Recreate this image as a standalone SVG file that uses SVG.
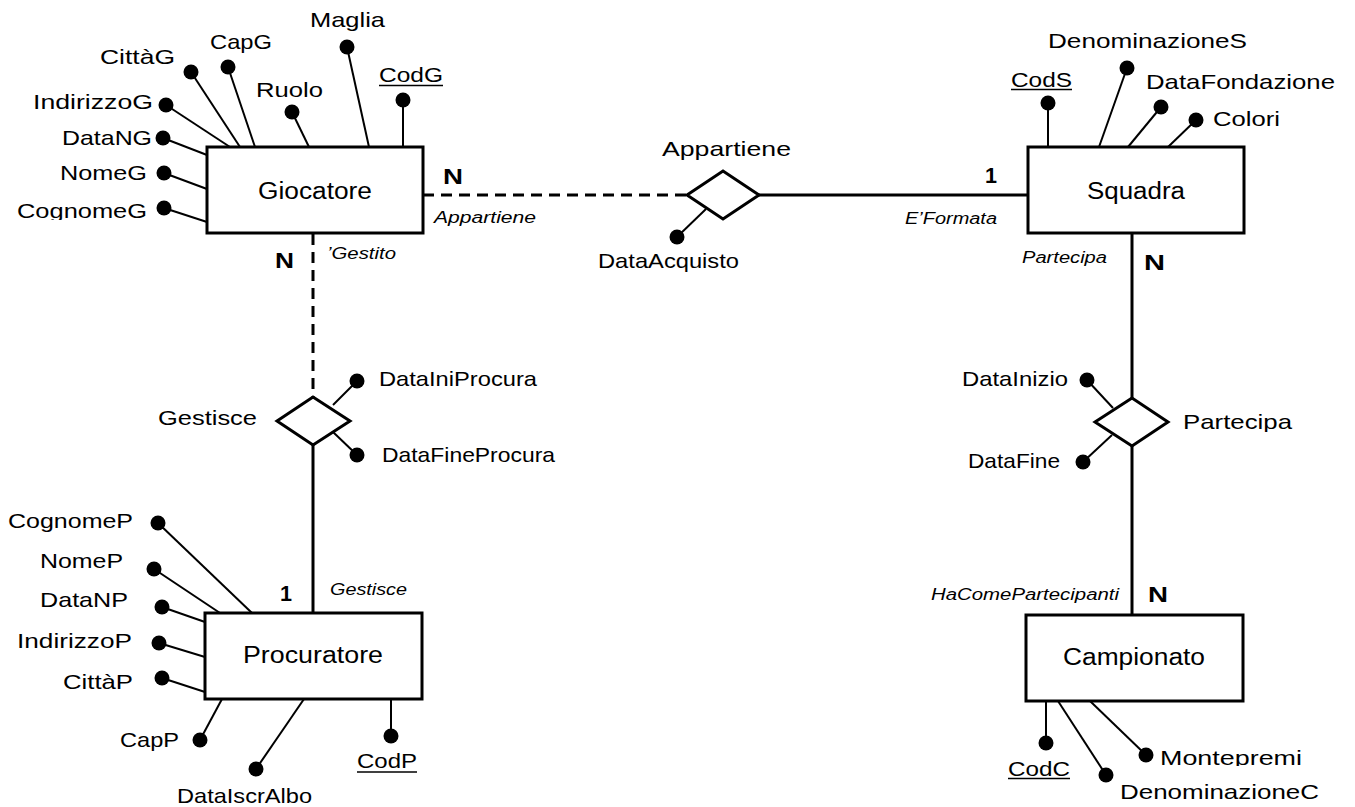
<svg xmlns="http://www.w3.org/2000/svg" width="1355" height="807" viewBox="0 0 1355 807">
<style>
  .ent { fill:#fff; stroke:#000; stroke-width:3 }
  .rel { fill:#fff; stroke:#000; stroke-width:3; stroke-linejoin:miter }
  .al { stroke:#000; stroke-width:2; fill:none }
  .ul { stroke:#000; stroke-width:1.6 }
  .dot { fill:#000 }
  .conn { stroke:#000; stroke-width:3; fill:none }
  .dash { stroke-dasharray:11 7 }
  text { font-family:"Liberation Sans", Arial, Helvetica, sans-serif; fill:#000 }
  .t { font-size:21px }
  .e { font-size:23px }
  .i { font-size:16px; font-style:italic }
  .b { font-size:22px; font-weight:bold }
</style>
<defs>
  <clipPath id="clipCognomeG"><rect x="0" y="190" width="160" height="30"/></clipPath>
  <clipPath id="clipPartecipa"><rect x="1175" y="400" width="130" height="32"/></clipPath>
  <clipPath id="clipMontepremi"><rect x="1150" y="740" width="170" height="26"/></clipPath>
</defs>

<g id="connectors">
  <line class="conn dash" x1="423" y1="195" x2="687" y2="195"/>
  <line class="conn" x1="759" y1="195" x2="1028" y2="195"/>
  <line class="conn dash" x1="313" y1="234" x2="313" y2="397"/>
  <line class="conn" x1="313" y1="445" x2="313" y2="613"/>
  <line class="conn" x1="1132" y1="234" x2="1132" y2="398"/>
  <line class="conn" x1="1132" y1="446" x2="1132" y2="615"/>
  <text class="b" x="443" y="184" textLength="20" lengthAdjust="spacingAndGlyphs">N</text>
  <text class="i" x="434" y="223" textLength="102" lengthAdjust="spacingAndGlyphs">Appartiene</text>
  <text class="b" x="985" y="183" textLength="12" lengthAdjust="spacingAndGlyphs">1</text>
  <text class="i" x="905" y="224" textLength="92" lengthAdjust="spacingAndGlyphs">E’Formata</text>
  <text class="b" x="275" y="268" textLength="19" lengthAdjust="spacingAndGlyphs">N</text>
  <text class="i" x="327" y="259" textLength="69" lengthAdjust="spacingAndGlyphs">’Gestito</text>
  <text class="b" x="280" y="601" textLength="12" lengthAdjust="spacingAndGlyphs">1</text>
  <text class="i" x="330" y="595" textLength="77" lengthAdjust="spacingAndGlyphs">Gestisce</text>
  <text class="i" x="1022" y="263" textLength="85" lengthAdjust="spacingAndGlyphs">Partecipa</text>
  <text class="b" x="1144" y="270" textLength="21" lengthAdjust="spacingAndGlyphs">N</text>
  <text class="i" x="931" y="600" textLength="188" lengthAdjust="spacingAndGlyphs">HaComePartecipanti</text>
  <text class="b" x="1148" y="602" textLength="20" lengthAdjust="spacingAndGlyphs">N</text>
</g>

<g id="Giocatore">
  <rect class="ent" x="207" y="147" width="216" height="86"/>
  <text class="e" x="258" y="199" textLength="114" lengthAdjust="spacingAndGlyphs">Giocatore</text>
  <g id="attr-Maglia"><line class="al" x1="347" y1="47" x2="369" y2="147"/><circle class="dot" cx="347" cy="47" r="7.5"/><text class="t" x="310" y="27" textLength="75" lengthAdjust="spacingAndGlyphs">Maglia</text></g>
  <g id="attr-CodG"><line class="al" x1="403" y1="100" x2="403" y2="147"/><circle class="dot" cx="403" cy="100" r="7.5"/><text class="t" x="379" y="82" textLength="64" lengthAdjust="spacingAndGlyphs">CodG</text><line class="ul" x1="379" y1="85.5" x2="443" y2="85.5"/></g>
  <g id="attr-Ruolo"><line class="al" x1="292" y1="112" x2="309" y2="147"/><circle class="dot" cx="292" cy="112" r="7.5"/><text class="t" x="256" y="97" textLength="67" lengthAdjust="spacingAndGlyphs">Ruolo</text></g>
  <g id="attr-CapG"><line class="al" x1="228" y1="67" x2="255" y2="147"/><circle class="dot" cx="228" cy="67" r="7.5"/><text class="t" x="210" y="49" textLength="62" lengthAdjust="spacingAndGlyphs">CapG</text></g>
  <g id="attr-CittaG"><line class="al" x1="191" y1="72" x2="240" y2="147"/><circle class="dot" cx="191" cy="72" r="7.5"/><text class="t" x="100" y="64" textLength="75" lengthAdjust="spacingAndGlyphs">CittàG</text></g>
  <g id="attr-IndirizzoG"><line class="al" x1="166" y1="105" x2="230" y2="147"/><circle class="dot" cx="166" cy="105" r="7.5"/><text class="t" x="33" y="109" textLength="120" lengthAdjust="spacingAndGlyphs">IndirizzoG</text></g>
  <g id="attr-DataNG"><line class="al" x1="163" y1="138" x2="207" y2="155"/><circle class="dot" cx="163" cy="138" r="7.5"/><text class="t" x="62" y="145" textLength="90" lengthAdjust="spacingAndGlyphs">DataNG</text></g>
  <g id="attr-NomeG"><line class="al" x1="164" y1="173" x2="207" y2="189"/><circle class="dot" cx="164" cy="173" r="7.5"/><text class="t" x="60" y="180" textLength="87" lengthAdjust="spacingAndGlyphs">NomeG</text></g>
  <g id="attr-CognomeG"><line class="al" x1="164" y1="208" x2="207" y2="222"/><circle class="dot" cx="164" cy="208" r="7.5"/><text class="t" x="17" y="218" textLength="130" lengthAdjust="spacingAndGlyphs" clip-path="url(#clipCognomeG)">CognomeG</text></g>
</g>

<g id="Squadra">
  <rect class="ent" x="1028" y="147" width="216" height="86"/>
  <text class="e" x="1087" y="199" textLength="98" lengthAdjust="spacingAndGlyphs">Squadra</text>
  <g id="attr-CodS"><line class="al" x1="1048" y1="103" x2="1048" y2="147"/><circle class="dot" cx="1048" cy="103" r="7.5"/><text class="t" x="1011" y="87" textLength="61" lengthAdjust="spacingAndGlyphs">CodS</text><line class="ul" x1="1011" y1="89.5" x2="1072" y2="89.5"/></g>
  <g id="attr-DenominazioneS"><line class="al" x1="1127" y1="68" x2="1099" y2="147"/><circle class="dot" cx="1127" cy="68" r="7.5"/><text class="t" x="1048" y="48" textLength="199" lengthAdjust="spacingAndGlyphs">DenominazioneS</text></g>
  <g id="attr-DataFondazione"><line class="al" x1="1161" y1="107" x2="1128" y2="147"/><circle class="dot" cx="1161" cy="107" r="7.5"/><text class="t" x="1146" y="89" textLength="189" lengthAdjust="spacingAndGlyphs">DataFondazione</text></g>
  <g id="attr-Colori"><line class="al" x1="1196" y1="120" x2="1168" y2="147"/><circle class="dot" cx="1196" cy="120" r="7.5"/><text class="t" x="1213" y="126" textLength="67" lengthAdjust="spacingAndGlyphs">Colori</text></g>
</g>

<g id="Procuratore">
  <rect class="ent" x="205" y="613" width="217" height="86"/>
  <text class="e" x="243" y="663" textLength="140" lengthAdjust="spacingAndGlyphs">Procuratore</text>
  <g id="attr-CognomeP"><line class="al" x1="158" y1="523" x2="252" y2="613"/><circle class="dot" cx="158" cy="523" r="7.5"/><text class="t" x="8" y="528" textLength="125" lengthAdjust="spacingAndGlyphs">CognomeP</text></g>
  <g id="attr-NomeP"><line class="al" x1="154" y1="569" x2="220" y2="613"/><circle class="dot" cx="154" cy="569" r="7.5"/><text class="t" x="40" y="568" textLength="83" lengthAdjust="spacingAndGlyphs">NomeP</text></g>
  <g id="attr-DataNP"><line class="al" x1="162" y1="607" x2="205" y2="622"/><circle class="dot" cx="162" cy="607" r="7.5"/><text class="t" x="40" y="607" textLength="88" lengthAdjust="spacingAndGlyphs">DataNP</text></g>
  <g id="attr-IndirizzoP"><line class="al" x1="159" y1="643" x2="205" y2="657"/><circle class="dot" cx="159" cy="643" r="7.5"/><text class="t" x="17" y="648" textLength="115" lengthAdjust="spacingAndGlyphs">IndirizzoP</text></g>
  <g id="attr-CittaP"><line class="al" x1="162" y1="678" x2="205" y2="692"/><circle class="dot" cx="162" cy="678" r="7.5"/><text class="t" x="63" y="689" textLength="70" lengthAdjust="spacingAndGlyphs">CittàP</text></g>
  <g id="attr-CapP"><line class="al" x1="200" y1="740" x2="222" y2="699"/><circle class="dot" cx="200" cy="740" r="7.5"/><text class="t" x="120" y="747" textLength="59" lengthAdjust="spacingAndGlyphs">CapP</text></g>
  <g id="attr-DataIscrAlbo"><line class="al" x1="256" y1="769" x2="304" y2="699"/><circle class="dot" cx="256" cy="769" r="7.5"/><text class="t" x="177" y="803" textLength="135" lengthAdjust="spacingAndGlyphs">DataIscrAlbo</text></g>
  <g id="attr-CodP"><line class="al" x1="391" y1="736" x2="391" y2="699"/><circle class="dot" cx="391" cy="736" r="7.5"/><text class="t" x="357" y="768" textLength="60" lengthAdjust="spacingAndGlyphs">CodP</text><line class="ul" x1="357" y1="772" x2="417" y2="772"/></g>
</g>

<g id="Campionato">
  <rect class="ent" x="1026" y="615" width="217" height="86"/>
  <text class="e" x="1063" y="665" textLength="142" lengthAdjust="spacingAndGlyphs">Campionato</text>
  <g id="attr-CodC"><line class="al" x1="1046" y1="743" x2="1046" y2="701"/><circle class="dot" cx="1046" cy="743" r="7.5"/><text class="t" x="1008" y="776" textLength="62" lengthAdjust="spacingAndGlyphs">CodC</text><line class="ul" x1="1008" y1="778.5" x2="1070" y2="778.5"/></g>
  <g id="attr-DenominazioneC"><line class="al" x1="1106" y1="775" x2="1058" y2="701"/><circle class="dot" cx="1106" cy="775" r="7.5"/><text class="t" x="1120" y="799" textLength="199" lengthAdjust="spacingAndGlyphs">DenominazioneC</text></g>
  <g id="attr-Montepremi"><line class="al" x1="1146" y1="755" x2="1090" y2="701"/><circle class="dot" cx="1146" cy="755" r="7.5"/><text class="t" x="1160" y="765" textLength="142" lengthAdjust="spacingAndGlyphs" clip-path="url(#clipMontepremi)">Montepremi</text></g>
</g>

<g id="Appartiene">
  <polygon class="rel" points="687,195 723,171 759,195 723,219"/>
  <text class="t" x="662" y="156" textLength="129" lengthAdjust="spacingAndGlyphs">Appartiene</text>
  <g id="attr-DataAcquisto"><line class="al" x1="677" y1="237" x2="706" y2="209"/><circle class="dot" cx="677" cy="237" r="7.5"/><text class="t" x="598" y="268" textLength="141" lengthAdjust="spacingAndGlyphs">DataAcquisto</text></g>
</g>

<g id="Gestisce">
  <polygon class="rel" points="277,421 313,397 350,421 313,445"/>
  <text class="t" x="158" y="425" textLength="99" lengthAdjust="spacingAndGlyphs">Gestisce</text>
  <g id="attr-DataIniProcura"><line class="al" x1="357" y1="381" x2="333" y2="405"/><circle class="dot" cx="357" cy="381" r="7.5"/><text class="t" x="379" y="386" textLength="158" lengthAdjust="spacingAndGlyphs">DataIniProcura</text></g>
  <g id="attr-DataFineProcura"><line class="al" x1="357" y1="455" x2="333" y2="432"/><circle class="dot" cx="357" cy="455" r="7.5"/><text class="t" x="382" y="462" textLength="173" lengthAdjust="spacingAndGlyphs">DataFineProcura</text></g>
</g>

<g id="Partecipa">
  <polygon class="rel" points="1095,422 1132,398 1168,422 1132,446"/>
  <text class="t" x="1183" y="429" textLength="109" lengthAdjust="spacingAndGlyphs" clip-path="url(#clipPartecipa)">Partecipa</text>
  <g id="attr-DataInizio"><line class="al" x1="1087" y1="380" x2="1113" y2="408"/><circle class="dot" cx="1087" cy="380" r="7.5"/><text class="t" x="962" y="386" textLength="106" lengthAdjust="spacingAndGlyphs">DataInizio</text></g>
  <g id="attr-DataFine"><line class="al" x1="1083" y1="462" x2="1112" y2="435"/><circle class="dot" cx="1083" cy="462" r="7.5"/><text class="t" x="968" y="468" textLength="92" lengthAdjust="spacingAndGlyphs">DataFine</text></g>
</g>
</svg>
